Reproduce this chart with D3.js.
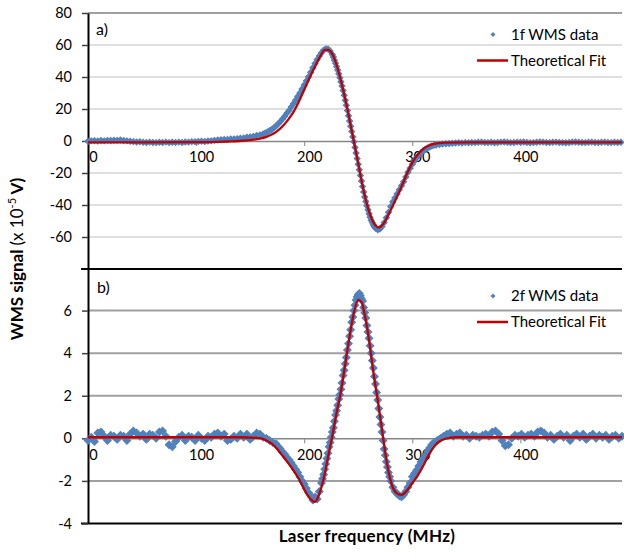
<!DOCTYPE html>
<html>
<head>
<meta charset="utf-8">
<script src="https://cdn.jsdelivr.net/npm/d3@7"></script>
<style>
  body { margin: 0; background: #fff; }
  text { font-family: Lato, "Open Sans", sans-serif; fill: #000; }
</style>
</head>
<body>
<script>
// create data (frequency in MHz, signal in 1e-5 V)
var data1f = [
  [0,-0.2],[3,0.1],[6,0.2],[9,0.0],[12,0.3],[15,0.1],[18,0.4],[21,0.3],[24,0.5],[27,0.4],
  [30,0.6],[33,0.3],[36,0.1],[39,-0.2],[42,-0.4],[45,-0.6],[48,-0.5],[51,-0.8],[54,-0.9],[57,-0.7],
  [60,-0.9],[63,-1.0],[66,-0.8],[69,-0.9],[72,-0.7],[75,-1.0],[78,-0.8],[81,-0.9],[84,-0.7],[87,-0.9],
  [90,-0.6],[93,-0.7],[96,-0.4],[99,-0.5],[102,-0.3],[105,-0.2],[108,-0.3],[111,0.0],[114,0.1],[117,0.4],
  [120,0.6],[123,0.8],[126,0.9],[129,1.0],[132,1.2],[135,1.3],[138,1.5],[141,1.7],[144,1.9],[147,2.3],
  [150,2.6],[153,2.9],[156,3.4],[159,3.8],[162,4.4],[164,5.0],[166,5.6],[168,6.4],[170,7.2],[172,8.3],
  [174,9.4],[176,10.8],[178,12.2],[180,13.8],[182,15.5],[184,17.3],[186,19.0],[188,21.2],[190,23.3],[192,25.5],
  [194,27.8],[196,30.0],[198,32.5],[200,35.0],[202,37.6],[204,40.2],[206,43.0],[208,45.8],[210,48.5],[212,51.0],
  [214,53.2],[216,55.2],[218,56.8],[220,57.6],[222,57.5],[224,56.2],[226,54.0],[227,52.5],[228,50.5],[229,48.6],
  [230,46.5],[231,44.3],[232,42.0],[233,39.6],[234,37.0],[235,34.3],[236,31.5],[237,28.6],[238,25.5],[239,22.3],
  [240,19.0],[241,15.8],[242,12.5],[243,9.2],[244,6.0],[245,2.7],[246,-0.5],[247,-4.0],[248,-7.5],[249,-11.0],
  [250,-14.5],[251,-18.0],[252,-21.5],[253,-25.0],[254,-28.5],[255,-31.8],[256,-35.0],[257,-37.8],[258,-40.5],[259,-43.0],
  [260,-45.5],[261,-47.6],[262,-49.5],[263,-51.0],[264,-52.5],[265,-53.6],[266,-54.5],[268,-55.5],[270,-55.0],[272,-53.5],
  [274,-51.0],[276,-48.0],[278,-44.5],[280,-41.0],[282,-38.0],[284,-35.5],[286,-33.0],[288,-30.5],[290,-28.0],[292,-25.5],
  [294,-22.5],[296,-19.5],[298,-17.0],[300,-14.5],[302,-12.5],[304,-10.5],[306,-9.0],[308,-7.5],[310,-6.2],[312,-5.2],
  [314,-4.4],[316,-3.7],[318,-3.1],[320,-2.7],[322,-2.5],[325,-2.2],[328,-1.9],[331,-1.7],[334,-1.6],[337,-1.4],
  [340,-1.3],[343,-1.1],[346,-1.2],[349,-1.0],[352,-1.1],[355,-0.9],[358,-1.0],[361,-0.8],[364,-0.7],[367,-0.9],
  [370,-1.0],[373,-0.8],[376,-1.1],[379,-0.9],[382,-0.7],[385,-0.6],[388,-0.8],[391,-1.0],[394,-0.9],[397,-0.7],
  [400,-0.8],[403,-0.6],[406,-0.9],[409,-1.1],[412,-1.0],[415,-0.8],[418,-0.6],[421,-0.7],[424,-0.9],[427,-1.0],
  [430,-0.8],[433,-0.7],[436,-0.9],[439,-1.0],[442,-1.1],[445,-0.9],[448,-0.7],[451,-0.6],[454,-0.8],[457,-0.9],
  [460,-1.0],[463,-0.8],[466,-0.7],[469,-0.9],[472,-1.0],[475,-0.8],[478,-0.7],[481,-0.9],[484,-1.0],[487,-0.8],
  [490,-0.9],[493,-0.8]
]

var fit1f = [
  [0,-0.9],[50,-0.9],[100,-0.7],[120,-0.5],[130,-0.3],[140,0],[150,0.6],[155,1.0],[160,1.6],[165,2.6],
  [170,4.0],[175,6.2],[180,9.2],[185,13.2],[190,18.0],[195,24.5],[200,32.0],[205,39.5],[210,46.5],[215,53.0],
  [219,57.0],[222,57.0],[226,54.5],[230,47.5],[235,35.0],[240,20.0],[245,3.0],[250,-14.0],[255,-31.0],[260,-44.0],
  [265,-52.0],[269,-54.0],[273,-52.0],[278,-46.0],[284,-37.5],[290,-28.5],[295,-20.5],[300,-13.5],[305,-8.5],[310,-5.0],
  [315,-3.0],[320,-1.8],[330,-1.0],[350,-0.8],[494,-0.8]
]

var data2f = [
  [0,-0.1],[3,0.05],[6,-0.15],[9,0.25],[12,0.3],[15,0.1],[18,-0.1],[21,0.15],[24,0.1],[27,-0.05],
  [30,0.15],[33,0.1],[36,-0.1],[39,0.2],[42,0.35],[45,0.25],[48,0.1],[51,0.2],[54,-0.05],[57,0.2],
  [60,0.15],[63,0.0],[66,0.3],[69,0.35],[72,0.1],[75,-0.3],[78,-0.4],[81,-0.15],[84,0.05],[87,0.15],
  [90,-0.1],[93,0.1],[96,0.05],[99,-0.1],[102,0.15],[105,0.0],[108,-0.1],[111,0.1],[114,0.05],[117,0.2],
  [120,0.25],[123,0.1],[126,0.2],[129,-0.1],[132,-0.05],[135,0.1],[138,0.0],[141,0.2],[144,0.05],[147,0.2],
  [150,-0.05],[153,0.1],[156,0.25],[159,0.2],[162,0.05],[165,0.0],[168,-0.1],[171,-0.2],[174,-0.25],[176,-0.4],
  [178,-0.5],[180,-0.65],[182,-0.75],[184,-0.9],[186,-1.0],[188,-1.15],[190,-1.3],[192,-1.45],[194,-1.6],[196,-1.8],
  [198,-2.0],[200,-2.15],[202,-2.35],[204,-2.55],[206,-2.7],[208,-2.9],[210,-2.75],[212,-2.85],[214,-2.5],[216,-2.1],
  [217,-1.9],[218,-1.7],[219,-1.45],[220,-1.2],[221,-0.95],[222,-0.7],[223,-0.4],[224,-0.2],[225,0.05],[226,0.3],
  [227,0.5],[228,0.8],[229,1.1],[230,1.3],[231,1.55],[232,1.85],[233,2.05],[234,2.3],[235,2.6],[236,2.95],
  [237,3.2],[238,3.5],[239,3.8],[240,4.15],[241,4.45],[242,4.8],[243,5.1],[244,5.45],[245,5.7],[246,6.0],
  [247,6.25],[248,6.5],[249,6.65],[250,6.75],[251,6.8],[252,6.7],[253,6.55],[254,6.45],[255,6.15],[256,5.9],
  [257,5.65],[258,5.3],[259,5.0],[260,4.7],[261,4.35],[262,4.0],[263,3.65],[264,3.3],[265,2.9],[266,2.55],
  [267,2.15],[268,1.8],[269,1.4],[270,1.0],[271,0.65],[272,0.3],[273,-0.1],[274,-0.5],[275,-0.8],[276,-1.1],
  [277,-1.35],[278,-1.6],[279,-1.8],[280,-2.0],[282,-2.3],[284,-2.5],[286,-2.6],[288,-2.7],[290,-2.75],[292,-2.65],
  [294,-2.5],[296,-2.3],[298,-2.1],[300,-1.8],[302,-1.65],[304,-1.5],[306,-1.3],[308,-1.1],[310,-0.95],[312,-0.8],
  [314,-0.6],[316,-0.45],[318,-0.3],[320,-0.2],[323,-0.1],[326,0.0],[329,0.1],[332,0.2],[335,0.25],[338,0.1],
  [341,0.2],[344,0.25],[347,0.1],[350,0.15],[353,0.0],[356,0.15],[359,0.1],[362,0.05],[365,0.15],[368,0.2],
  [371,0.1],[374,0.3],[377,0.35],[380,0.2],[383,-0.1],[386,-0.35],[389,-0.3],[392,0.0],[395,0.15],[398,0.1],
  [401,0.2],[404,0.05],[407,0.15],[410,0.2],[413,0.1],[416,0.3],[419,0.35],[422,0.25],[425,0.05],[428,0.15],
  [431,-0.05],[434,0.1],[437,0.2],[440,0.05],[443,0.15],[446,-0.1],[449,0.1],[452,0.2],[455,0.05],[458,0.2],
  [461,-0.05],[464,0.1],[467,0.2],[470,0.0],[473,0.15],[476,0.05],[479,0.15],[482,-0.05],[485,0.1],[488,0.15],
  [491,0.0],[494,0.1]
]

var fit2f = [
  [0,0.05],[100,0.05],[140,0.05],[160,0],[165,-0.1],[170,-0.25],[175,-0.5],[180,-0.82],[185,-1.15],[190,-1.5],
  [195,-1.9],[200,-2.4],[205,-2.8],[210,-2.98],[214,-2.6],[218,-1.9],[222,-0.9],[226,0.1],[230,1.2],[234,2.2],
  [238,3.5],[242,4.8],[246,5.9],[250,6.5],[253,6.4],[256,5.8],[260,4.6],[264,3.1],[268,1.8],[272,0.4],
  [276,-1.0],[280,-2.0],[285,-2.55],[290,-2.66],[295,-2.45],[300,-2.1],[305,-1.75],[310,-1.3],[315,-0.8],[320,-0.4],
  [325,-0.15],[330,-0.03],[340,0.05],[494,0.05]
]

var xTicks = [0, 100, 200, 300, 400]
var yTicks1 = [-60, -40, -20, 0, 20, 40, 60, 80]
var yTicks2 = [-4, -2, 0, 2, 4, 6]

var blue = "#4f81bd", red = "#c00000"

// create svg element:
var svg = d3.select("body").append("svg").attr("width", 624).attr("height", 559)

var x = d3.scaleLinear().domain([0, 494]).range([88, 622])
var y1 = d3.scaleLinear().domain([-80, 80]).range([269, 13])
var y2 = d3.scaleLinear().domain([-4, 8]).range([523.5, 268])

// gridlines
svg.append("g").selectAll("line")
  .data([-60, -40, -20, 20, 40, 60])
  .join("line")
  .attr("x1", 88).attr("x2", 622)
  .attr("y1", function(d) { return y1(d) }).attr("y2", function(d) { return y1(d) })
  .attr("stroke", "#c0c0c0").attr("stroke-width", 1.2)

svg.append("g").selectAll("line")
  .data([-2, 2, 4, 6])
  .join("line")
  .attr("x1", 88).attr("x2", 622)
  .attr("y1", function(d) { return y2(d) }).attr("y2", function(d) { return y2(d) })
  .attr("stroke", "#a0a0a0").attr("stroke-width", 2)

// frame lines
svg.append("line").attr("x1", 88).attr("x2", 622).attr("y1", y1(80)).attr("y2", y1(80))
  .attr("stroke", "#404040").attr("stroke-width", 1)
svg.append("line").attr("x1", 81).attr("x2", 622).attr("y1", y1(-80)).attr("y2", y1(-80))
  .attr("stroke", "#000").attr("stroke-width", 2.2)
svg.append("line").attr("x1", 81).attr("x2", 622).attr("y1", y2(-4)).attr("y2", y2(-4))
  .attr("stroke", "#000").attr("stroke-width", 2.2)

// x axes at zero
function xAxis(g, color) {
  g.call(d3.axisBottom(x).tickValues(xTicks).tickSize(5).tickPadding(6).tickSizeOuter(0))
  g.select(".domain").attr("stroke", color).attr("stroke-width", 1.5)
  g.selectAll(".tick line").attr("stroke", color)
  g.selectAll(".tick text").attr("dx", 5).style("font-size", "14.5px")
}
svg.append("g").attr("transform", "translate(0," + y1(0) + ")").call(xAxis, "#868686")
svg.append("g").attr("transform", "translate(0," + y2(0) + ")").call(xAxis, "#868686")

// y axes
function yAxis(g, scale, ticks) {
  g.call(d3.axisLeft(scale).tickValues(ticks).tickSize(6).tickPadding(10).tickSizeOuter(0)
    .tickFormat(function(d) { return String(d) }))
  g.select(".domain").attr("stroke", "#000").attr("stroke-width", 2)
  g.selectAll(".tick line").attr("stroke", "#404040").attr("stroke-width", 1.5)
  g.selectAll(".tick text").style("font-size", "14.5px")
}
svg.append("g").attr("transform", "translate(88,0)").call(yAxis, y1, yTicks1)
svg.append("g").attr("transform", "translate(88,0)").call(yAxis, y2, yTicks2)

// data markers (diamond = square turned 45 degrees)
var markTop = d3.symbol().type(d3.symbolSquare).size(18)
var markBot = d3.symbol().type(d3.symbolSquare).size(28)

svg.append("g").selectAll("path")
  .data(data1f)
  .join("path")
  .attr("d", markTop)
  .attr("transform", function(d) { return "translate(" + x(d[0]) + "," + y1(d[1]) + ") rotate(45)" })
  .attr("fill", blue).attr("stroke", blue).attr("stroke-width", 1)

svg.append("g").selectAll("path")
  .data(data2f)
  .join("path")
  .attr("d", markBot)
  .attr("transform", function(d) { return "translate(" + x(d[0]) + "," + y2(d[1]) + ") rotate(45)" })
  .attr("fill", blue).attr("stroke", blue).attr("stroke-width", 1)

// fit lines
var line1 = d3.line().curve(d3.curveMonotoneX)
  .x(function(d) { return x(d[0]) })
  .y(function(d) { return y1(d[1]) })
var line2 = d3.line().curve(d3.curveMonotoneX)
  .x(function(d) { return x(d[0]) })
  .y(function(d) { return y2(d[1]) })

svg.append("path").attr("d", line1(fit1f)).attr("fill", "none").attr("stroke", red).attr("stroke-width", 2.3)
svg.append("path").attr("d", line2(fit2f)).attr("fill", "none").attr("stroke", red).attr("stroke-width", 2.3)

// panel letters
svg.append("text").attr("x", 96).attr("y", 35).style("font-size", "16px").text("a)")
svg.append("text").attr("x", 97).attr("y", 293).style("font-size", "16px").text("b)")

// legends
function legend(top, label) {
  svg.append("path").attr("d", d3.symbol().type(d3.symbolSquare).size(12))
    .attr("transform", "translate(493," + top + ") rotate(45)").attr("fill", blue)
  svg.append("text").attr("x", 511).attr("y", top + 5).style("font-size", "15px").text(label)
  svg.append("line").attr("x1", 477).attr("x2", 508).attr("y1", top + 26).attr("y2", top + 26)
    .attr("stroke", red).attr("stroke-width", 2.5)
  svg.append("text").attr("x", 511).attr("y", top + 31).style("font-size", "15px").text("Theoretical Fit")
}
legend(34.5, "1f WMS data")
legend(296, "2f WMS data")

// axis titles
svg.append("text").attr("x", 367).attr("y", 542).attr("text-anchor", "middle")
  .style("font-size", "17px").style("font-weight", "bold").style("letter-spacing", "0.3px")
  .text("Laser frequency (MHz)")

var yt = svg.append("text").attr("transform", "translate(23,259) rotate(-90)")
  .attr("text-anchor", "middle").style("font-size", "17px")
yt.append("tspan").style("font-weight", "bold").text("WMS signal ")
yt.append("tspan").text("(x 10")
yt.append("tspan").attr("dy", -7).style("font-size", "11px").text("-5")
yt.append("tspan").attr("dy", 7).style("font-weight", "bold").text(" V)")
</script>
</body>
</html>
